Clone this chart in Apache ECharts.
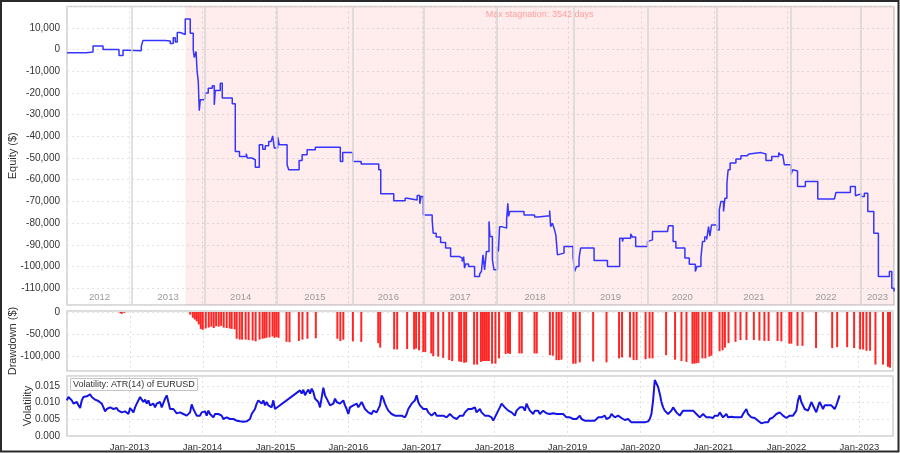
<!DOCTYPE html>
<html><head><meta charset="utf-8">
<script src="https://cdn.jsdelivr.net/npm/echarts@6/dist/echarts.min.js"></script>
<style>html,body{margin:0;padding:0;background:#fff}#c{width:900px;height:453px}</style>
</head><body><div id="c"></div>
<script>
// ---------- data ----------
const xStart = '2012-02-23', xEnd = '2023-06-18';
const yearLabels = ['2012','2013','2014','2015','2016','2017','2018','2019','2020','2021','2022','2023'];
const yearStarts = ['2013-01-13','2014-01-09','2015-01-08','2016-01-21','2017-01-11','2018-01-09','2019-01-28','2020-02-02','2021-01-14','2022-01-19','2023-01-04'];
const stagnationStart = '2013-10-06';
const stagnationText = 'Max stagnation: 3542 days';
const volTitle = 'Volatility: ATR(14) of EURUSD';

const equityDates = ['2012-02-23','2012-05-28','2012-07-02','2012-08-21','2012-11-09','2012-11-29','2012-12-24','2013-02-28','2013-03-08','2013-06-28',
'2013-07-23','2013-08-07','2013-08-17','2013-08-27','2013-09-11','2013-10-06','2013-10-31','2013-11-15','2013-11-20','2013-11-29',
'2013-12-04','2013-12-10','2013-12-15','2013-12-20','2014-01-04','2014-01-14','2014-01-29','2014-02-18','2014-02-28','2014-03-05',
'2014-03-30','2014-04-09','2014-05-09','2014-05-14','2014-05-29','2014-06-13','2014-07-04','2014-08-07','2014-08-12','2014-09-04',
'2014-09-21','2014-10-11','2014-10-28','2014-11-10','2014-11-27','2014-12-09','2014-12-17','2014-12-25','2015-01-11','2015-01-19',
'2015-02-27','2015-03-07','2015-04-28','2015-05-13','2015-06-07','2015-07-18','2015-11-20','2015-12-02','2016-01-21','2016-03-03',
'2016-05-30','2016-06-09','2016-08-13','2016-10-09','2016-10-19','2016-12-08','2016-12-21','2016-12-28','2017-01-08','2017-02-21',
'2017-02-26','2017-03-13','2017-04-04','2017-04-29','2017-05-24','2017-07-08','2017-07-21','2017-07-28','2017-08-02','2017-08-07',
'2017-08-22','2017-09-21','2017-10-16','2017-10-25','2017-11-02','2017-11-10','2017-11-19','2017-12-02','2017-12-07','2017-12-19',
'2017-12-27','2018-01-13','2018-01-18','2018-01-24','2018-02-03','2018-02-28','2018-03-06','2018-03-10','2018-03-16','2018-05-26',
'2018-07-18','2018-08-04','2018-10-01','2018-10-06','2018-10-15','2018-10-23','2018-11-01','2018-11-09','2018-11-17','2018-12-12',
'2019-01-26','2019-02-03','2019-02-12','2019-02-25','2019-03-05','2019-05-11','2019-07-17','2019-09-16','2019-09-30','2019-10-05',
'2019-11-10','2019-11-19','2019-12-05','2020-02-02','2020-02-10','2020-02-27','2020-05-12','2020-05-17','2020-06-09','2020-06-23',
'2020-08-07','2020-08-29','2020-09-28','2020-10-06','2020-10-26','2020-11-03','2020-11-14','2020-11-24','2020-12-03','2020-12-10',
'2020-12-18','2021-01-14','2021-01-26','2021-02-03','2021-02-16','2021-02-23','2021-03-05','2021-03-11','2021-03-21','2021-04-19',
'2021-05-14','2021-06-13','2021-06-24','2021-08-22','2021-09-16','2021-10-15','2021-11-19','2021-11-27','2021-12-09','2021-12-17',
'2022-01-19','2022-01-28','2022-02-05','2022-02-21','2022-04-01','2022-06-02','2022-08-24','2022-09-01','2022-11-12','2022-12-07',
'2022-12-15','2023-01-04','2023-01-21','2023-02-07','2023-03-09','2023-04-01','2023-05-26','2023-06-07','2023-06-18'];
const equityValues = [-1500,-1200,1600,0,-2800,-300,-600,1200,4100,3900,
2800,5400,3400,7800,6900,14000,7500,-100,-3700,-900,
-9800,-14700,-28200,-23200,-22700,-20100,-17800,-16700,-25500,-18900,
-15500,-22400,-23200,-22400,-25000,-47000,-49300,-48000,-50000,-50800,
-54200,-43900,-45900,-44400,-42400,-41600,-39800,-45400,-40400,-43900,
-53100,-55400,-51100,-48500,-46200,-45000,-51600,-47500,-51600,-52700,
-55400,-66500,-69700,-68500,-69300,-67300,-71100,-67700,-76200,-78500,
-84600,-86400,-88900,-91500,-95400,-96100,-97700,-95400,-100700,-98800,
-100000,-104600,-103400,-102300,-94600,-101500,-93000,-79200,-86200,-96900,
-101500,-90800,-93000,-81600,-82300,-78500,-70800,-76900,-74600,-76200,
-77200,-76600,-74200,-81600,-80000,-82300,-85400,-94600,-93800,-90800,
-95400,-102300,-100000,-96100,-91500,-97200,-100000,-86900,-88500,-86900,
-84900,-86400,-90800,-88500,-87700,-83900,-83100,-81200,-88500,-91500,
-96100,-98900,-102300,-100000,-96100,-88500,-86400,-87500,-81600,-86000,
-80800,-83100,-73900,-70000,-74600,-68500,-61600,-55400,-52300,-50500,
-49000,-48100,-47500,-48100,-51100,-49300,-47500,-48500,-49000,-53100,
-57700,-55400,-56000,-63100,-60800,-68900,-69300,-65900,-63100,-67400,
-66500,-67700,-66200,-74600,-84600,-104600,-102300,-110000,-111500];

const ddDates = ['2012-11-12','2012-11-19','2012-12-02','2013-10-28','2013-11-10','2013-11-20','2013-11-30','2013-12-10','2013-12-20','2013-12-30',
'2014-01-14','2014-01-29','2014-02-11','2014-02-23','2014-03-07','2014-03-20','2014-04-01','2014-04-14','2014-04-29','2014-05-14',
'2014-05-24','2014-06-08','2014-06-18','2014-07-03','2014-07-15','2014-08-02','2014-08-17','2014-09-06','2014-09-21','2014-10-11',
'2014-10-26','2014-11-05','2014-11-15','2014-11-30','2014-12-15','2014-12-25','2015-01-04','2015-01-14','2015-02-23','2015-03-10',
'2015-04-26','2015-05-14','2015-06-08','2015-07-20','2015-11-05','2015-11-20','2015-12-05','2016-01-22','2016-03-04','2016-05-28',
'2016-06-07','2016-08-16','2016-08-31','2016-10-20','2016-11-24','2016-12-04','2016-12-19','2017-01-09','2017-01-19','2017-02-18',
'2017-02-28','2017-03-25','2017-04-19','2017-05-19','2017-06-03','2017-07-08','2017-07-18','2017-08-02','2017-08-12','2017-09-21',
'2017-10-06','2017-10-25','2017-11-04','2017-11-14','2017-11-24','2017-12-04','2017-12-20','2018-01-06','2018-01-24','2018-02-26',
'2018-03-10','2018-03-20','2018-05-06','2018-05-18','2018-07-21','2018-08-01','2018-10-06','2018-10-21','2018-11-08','2018-11-20',
'2018-12-03','2019-01-31','2019-02-12','2019-03-05','2019-05-11','2019-07-17','2019-09-18','2019-10-03','2019-11-12','2019-11-30',
'2019-12-15','2020-01-29','2020-02-18','2020-03-04','2020-05-11','2020-06-25','2020-07-27','2020-08-21','2020-09-20','2020-09-30',
'2020-10-10','2020-10-20','2020-11-09','2020-11-24','2020-12-14','2020-12-24','2021-02-03','2021-02-18','2021-03-02','2021-03-20',
'2021-04-24','2021-05-19','2021-06-18','2021-07-25','2021-08-22','2021-09-16','2021-10-07','2021-11-21','2021-12-10','2022-01-19',
'2022-01-29','2022-03-01','2022-03-26','2022-06-02','2022-08-22','2022-09-16','2022-11-05','2022-12-10','2023-01-09','2023-01-24',
'2023-02-10','2023-02-28','2023-03-27','2023-05-04','2023-05-29','2023-06-08'];
const ddValues = [-3000,-4000,-2000,-6000,-13000,-17000,-21000,-28000,-38000,-40000,
-37000,-35000,-33000,-36000,-32000,-33000,-31000,-35000,-36000,-37000,
-38000,-39000,-60000,-62000,-62000,-62000,-63000,-64000,-66000,-62000,
-60000,-59000,-58000,-57000,-55000,-58000,-56000,-58000,-67000,-68000,
-65000,-62000,-60000,-59000,-60000,-65000,-62000,-66000,-67000,-70000,
-80000,-84000,-84000,-83000,-84000,-82000,-86000,-90000,-90000,-93000,
-99000,-100000,-103000,-108000,-110000,-111000,-112000,-114000,-113000,-118000,
-118000,-112000,-110000,-110000,-110000,-110000,-116000,-116000,-104000,-94000,
-93000,-94000,-93000,-93000,-93000,-93000,-97000,-98000,-108000,-108000,
-107000,-116000,-116000,-113000,-111000,-113000,-104000,-102000,-102000,-108000,
-108000,-106000,-104000,-104000,-97000,-107000,-110000,-112000,-116000,-116000,
-115000,-114000,-104000,-104000,-100000,-98000,-88000,-86000,-80000,-70000,
-67000,-63000,-63000,-63000,-64000,-65000,-65000,-65000,-66000,-71000,
-71000,-76000,-76000,-81000,-81000,-79000,-79000,-81000,-84000,-84000,
-87000,-87000,-118000,-118000,-123000,-125000];

// volatility: regularly sampled series (every 25/3 days), two segments with a data gap between them
const volStepDays = 25 / 3;
const volStart1 = '2012-02-22';
const volValues1 = [.0107,.0117,.0112,.0107,.0097,.0099,.0102,.0092,.0084,.0107,
.0117,.0122,.0119,.0122,.0125,.0117,.0122,.0109,.0107,.0105,
.0102,.0097,.0086,.0074,.0081,.0084,.0086,.0084,.0081,.0078,
.0084,.0076,.0081,.0071,.0066,.0074,.0071,.0066,.0084,.0081,
.0071,.0086,.0097,.0107,.0117,.0109,.0102,.0109,.0097,.0107,
.0092,.0086,.0097,.0086,.0097,.0092,.0102,.0086,.0081,.0112,
.0122,.0102,.0081,.0076,.0081,.0076,.0068,.0071,.0071,.0068,
.0066,.0064,.0061,.0056,.0071,.0095,.0081,.0071,.0061,.0066,
.0061,.0071,.0066,.0074,.0061,.0076,.0066,.0061,.0056,.0066,
.0061,.0066,.0071,.0061,.0051,.0046,.0056,.0061,.0051,.0056,
.0051,.0048,.0046,.0041,.0044,.0046,.0043,.0041,.0044,.0046,
.0051,.0066,.0071,.0081,.0097,.0107,.0102,.0097,.0107,.0092,
.0102,.0092,.0097,.0086,.0107,.0081];
const volStart2 = '2015-05-04';
const volValues2 = [.0137,.0127,.0139,.0122,.0132,.0139,.0127,.0142,.0132,.0112,
.0107,.0102,.0086,.0088,.0145,.0122,.0112,.0107,.0092,.0086,
.0097,.0112,.0102,.0107,.0097,.0102,.0107,.0092,.0081,.0066,
.0086,.0081,.0092,.0086,.0097,.0086,.0092,.0102,.0097,.0081,
.0086,.0071,.0076,.0066,.0076,.0071,.0071,.0076,.0092,.0122,
.0112,.0097,.0086,.0076,.0071,.0066,.0061,.0061,.0066,.0061,
.0056,.0061,.0066,.0056,.0066,.0081,.0076,.0097,.0102,.0107,
.0122,.0102,.0092,.0086,.0081,.0076,.0081,.0071,.0066,.0061,
.0066,.0071,.0061,.0066,.0061,.0066,.0061,.0061,.0056,.0061,
.0066,.0061,.0056,.0056,.0051,.0056,.0061,.0066,.0061,.0071,
.0076,.0081,.0076,.0081,.0076,.0086,.0071,.0066,.0081,.0071,
.0066,.0061,.0066,.0061,.0061,.0056,.0046,.0056,.0066,.0076,
.0086,.0097,.0092,.0086,.0081,.0076,.0081,.0071,.0066,.0061,
.0076,.0081,.0086,.0081,.0086,.0076,.0097,.0086,.0076,.0071,
.0066,.0076,.0071,.0076,.0066,.0071,.0076,.0071,.0068,.0071,
.0066,.0071,.0068,.0071,.0066,.0068,.0066,.0061,.0066,.0061,
.0056,.0061,.0056,.0051,.0051,.0056,.0051,.0056,.0061,.0051,
.0051,.0046,.0041,.0046,.0041,.0046,.0051,.0046,.0051,.0056,
.0051,.0056,.0056,.0061,.0051,.0056,.0056,.0066,.0061,.0056,
.0056,.0061,.0058,.0054,.0051,.0048,.0046,.0051,.0051,.0041,
.0036,.0041,.0036,.0041,.0044,.0041,.0044,.0041,.0046,.0044,
.0051,.0066,.0107,.0168,.0173,.0147,.0127,.0102,.0086,.0076,
.0071,.0066,.0071,.0076,.0086,.0081,.0071,.0066,.0061,.0066,
.0076,.0081,.0076,.0081,.0076,.0071,.0076,.0071,.0066,.0061,
.0056,.0061,.0066,.0061,.0056,.0061,.0056,.0061,.0054,.0061,
.0066,.0061,.0071,.0066,.0056,.0061,.0066,.0056,.0061,.0058,
.0061,.0056,.0061,.0056,.0061,.0056,.0066,.0061,.0081,.0066,
.0061,.0056,.0058,.0054,.0051,.0046,.0044,.0038,.0034,.0041,
.0046,.0041,.0051,.0046,.0056,.0054,.0066,.0061,.0071,.0066,
.0061,.0058,.0054,.0056,.0061,.0058,.0061,.0066,.0076,.0107,
.0122,.0102,.0092,.0081,.0086,.0076,.0088,.0102,.0097,.0081,
.0071,.0088,.0102,.0092,.0081,.0092,.0097,.0092,.0086,.0092,
.0086,.0081,.0092,.0086,.0122];

// ---------- build ----------
const DAY = 86400000;
function localTime(s) { return new Date(s + 'T00:00:00').getTime(); }
function regular(start, values) {
  const t0 = localTime(start);
  return values.map((v, i) => [t0 + i * volStepDays * DAY, v]);
}
const equityData = equityDates.map((d, i) => [d, equityValues[i]]);
const ddData = ddDates.map((d, i) => [d, ddValues[i]]);
const volData = regular(volStart1, volValues1).concat(regular(volStart2, volValues2));

const bounds = [xStart].concat(yearStarts, [xEnd]);
const yearAreas = yearLabels.map((y, i) => [
  { name: y, xAxis: bounds[i], itemStyle: { color: 'rgba(0,0,0,0)' },
    label: { show: true, position: 'insideBottom', distance: 3, formatter: '{b}', color: '#9a9a9a', fontSize: 9.5 } },
  { xAxis: bounds[i + 1] }
]);
const stagArea = [
  { name: stagnationText, xAxis: stagnationStart, itemStyle: { color: 'rgba(255,0,0,0.07)' },
    label: { show: true, position: 'insideTop', distance: 4, formatter: '{b}', color: '#ff9d9d', fontSize: 9 } },
  { xAxis: xEnd }
];

const MONTHS = ['Jan','Feb','Mar','Apr','May','Jun','Jul','Aug','Sep','Oct','Nov','Dec'];
const fmtThousands = v => Math.round(v).toLocaleString('en-US');
const gridStyle = { show: true, backgroundColor: '#fff', borderColor: '#cfcfcf', borderWidth: 1.5, outerBoundsMode: 'none', containLabel: false };
const vSplit = { show: true, lineStyle: { color: '#e0e0e0', type: [2, 3], width: 1 } };
const hSplit = { show: true, lineStyle: { color: '#e2e2e2', type: [2, 3], width: 1 } };
const labelStyle = { color: '#333', fontSize: 10 };
const nameStyle = { color: '#333', fontSize: 11 };

function timeAxis(idx, showLabels) {
  return {
    type: 'time', gridIndex: idx, min: xStart, max: xEnd,
    splitNumber: 12, minInterval: 365 * DAY,
    axisLine: { show: false }, axisTick: { show: false },
    axisLabel: showLabels ? {
      show: true, color: '#333', fontSize: 9.5, margin: 6, hideOverlap: false,
      formatter: v => { const d = new Date(v); return MONTHS[d.getMonth()] + '-' + d.getFullYear(); }
    } : { show: false },
    splitLine: vSplit
  };
}

const chart = echarts.init(document.getElementById('c'), null, { renderer: 'canvas' });
chart.setOption({
  animation: false,
  backgroundColor: '#fff',
  textStyle: { fontFamily: 'Liberation Sans, Arial, sans-serif' },
  title: {
    text: volTitle, left: 70, top: 378, padding: [2, 3],
    borderColor: '#c4c4c4', borderWidth: 1, backgroundColor: '#fff',
    textStyle: { fontSize: 9, fontWeight: 'normal', color: '#333' }
  },
  graphic: [{
    type: 'rect', silent: true, z: 100,
    shape: { x: 1, y: 1, width: 897.5, height: 450.5 },
    style: { fill: 'none', stroke: '#2a2a2a', lineWidth: 2 }
  }],
  grid: [
    Object.assign({ left: 67, right: 6, top: 6.5, height: 298.5 }, gridStyle),
    Object.assign({ left: 67, right: 7, top: 311, height: 60 }, gridStyle),
    Object.assign({ left: 67, right: 7, top: 376, height: 60 }, gridStyle)
  ],
  xAxis: [timeAxis(0, false), timeAxis(1, false), timeAxis(2, true)],
  yAxis: [
    { type: 'value', gridIndex: 0, min: -117700, max: 19800, splitNumber: 14, minInterval: 10000, maxInterval: 10000,
      axisLine: { show: false }, axisTick: { show: false },
      axisLabel: Object.assign({ formatter: fmtThousands, showMinLabel: false, showMaxLabel: false, margin: 7 }, labelStyle),
      splitLine: hSplit,
      name: 'Equity ($)', nameLocation: 'middle', nameGap: 49, nameMoveOverlap: false, nameTextStyle: nameStyle },
    { type: 'value', gridIndex: 1, min: -132400, max: 2200, splitNumber: 3, minInterval: 50000, maxInterval: 50000,
      axisLine: { show: false }, axisTick: { show: false },
      axisLabel: Object.assign({ formatter: fmtThousands, showMinLabel: false, showMaxLabel: false, margin: 7 }, labelStyle),
      splitLine: hSplit,
      name: 'Drawdown ($)', nameLocation: 'middle', nameGap: 49, nameMoveOverlap: false, nameTextStyle: nameStyle },
    { type: 'value', gridIndex: 2, min: 0, max: 0.018, interval: 0.005,
      axisLine: { show: false }, axisTick: { show: false },
      axisLabel: Object.assign({ formatter: v => v.toFixed(3), showMaxLabel: false, margin: 7 }, labelStyle),
      splitLine: hSplit,
      name: 'Volatility', nameLocation: 'middle', nameGap: 34, nameMoveOverlap: false, nameTextStyle: nameStyle }
  ],
  series: [
    { name: 'Equity', type: 'line', xAxisIndex: 0, yAxisIndex: 0, data: equityData,
      step: 'end', showSymbol: false, symbol: 'none',
      lineStyle: { color: '#3535ff', width: 1.5 }, z: 3,
      markArea: { silent: true, data: [stagArea].concat(yearAreas) },
      markLine: { silent: true, symbol: ['none', 'none'], label: { show: false },
        lineStyle: { color: '#d6d6d6', width: 1.5, type: 'solid' },
        data: yearStarts.map(d => ({ xAxis: d })) }
    },
    { name: 'Drawdown', type: 'bar', xAxisIndex: 1, yAxisIndex: 1, data: ddData,
      barWidth: 2, itemStyle: { color: 'rgba(255,0,0,0.85)' } },
    { name: 'Volatility', type: 'line', xAxisIndex: 2, yAxisIndex: 2, data: volData,
      showSymbol: false, symbol: 'none',
      lineStyle: { color: '#1414e6', width: 2 } }
  ]
});
</script>
</body></html>
